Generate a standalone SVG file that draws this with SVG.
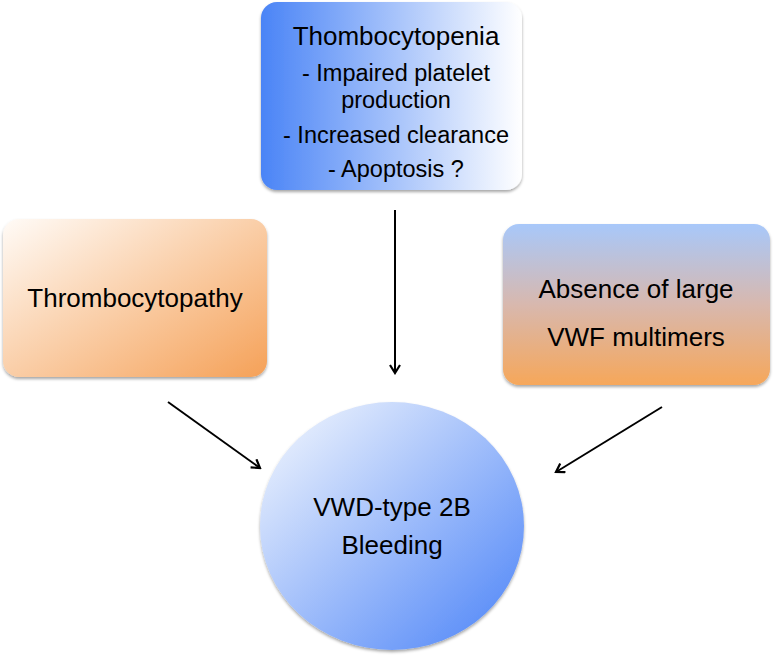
<svg xmlns="http://www.w3.org/2000/svg" width="774" height="656" viewBox="0 0 774 656">
  <style>
    text { font-family: "Liberation Sans", Arial, sans-serif; fill: #000; text-anchor: middle; }
    .t26 { font-size: 26px; }
    .t24 { font-size: 23.5px; }
    .conn { stroke: #000; stroke-width: 2; fill: none; marker-end: url(#arrow); }
  </style>
  <defs>
    <linearGradient id="gTop" x1="0" y1="0" x2="1" y2="0">
      <stop offset="0" stop-color="#4a84f6"/>
      <stop offset="1" stop-color="#ffffff"/>
    </linearGradient>
    <linearGradient id="gLeft" x1="0" y1="0" x2="1" y2="1">
      <stop offset="0" stop-color="#fffbf7"/>
      <stop offset="1" stop-color="#f5a158"/>
    </linearGradient>
    <linearGradient id="gRight" x1="0" y1="0" x2="0" y2="1">
      <stop offset="0" stop-color="#a8c8fa"/>
      <stop offset="0.5" stop-color="#d8b8ae"/>
      <stop offset="1" stop-color="#f6a75a"/>
    </linearGradient>
    <linearGradient id="gCircle" x1="0.1" y1="0.1" x2="0.9" y2="0.9">
      <stop offset="0" stop-color="#e6eefd"/>
      <stop offset="1" stop-color="#5b8ef8"/>
    </linearGradient>
    <filter id="shadow" x="-10%" y="-10%" width="120%" height="125%">
      <feDropShadow dx="0" dy="2" stdDeviation="1.5" flood-color="#000" flood-opacity="0.35"/>
    </filter>
    <marker id="arrow" markerWidth="12" markerHeight="12" refX="10" refY="6" orient="auto" markerUnits="userSpaceOnUse">
      <path d="M2,1 L10,6 L2,11" fill="none" stroke="#000" stroke-width="2.2"/>
    </marker>
  </defs>

  <g id="node-thrombocytopenia">
    <rect x="261" y="2" width="261" height="188" rx="16" fill="url(#gTop)" filter="url(#shadow)"/>
    <text class="t26" x="396" y="45">Thombocytopenia</text>
    <text class="t24" x="396" y="81">- Impaired platelet</text>
    <text class="t24" x="396" y="108">production</text>
    <text class="t24" x="396" y="143">- Increased clearance</text>
    <text class="t24" x="396" y="177">- Apoptosis ?</text>
  </g>

  <g id="node-thrombocytopathy">
    <rect x="3" y="219" width="264" height="158" rx="16" fill="url(#gLeft)" filter="url(#shadow)"/>
    <text class="t26" x="135" y="307">Thrombocytopathy</text>
  </g>

  <g id="node-vwf">
    <rect x="503" y="224" width="267" height="161" rx="16" fill="url(#gRight)" filter="url(#shadow)"/>
    <text class="t26" x="636" y="298">Absence of large</text>
    <text class="t26" x="636" y="346">VWF multimers</text>
  </g>

  <g id="node-bleeding">
    <ellipse cx="392" cy="526" rx="132" ry="124" fill="url(#gCircle)" filter="url(#shadow)"/>
    <text class="t26" x="392" y="516">VWD-type 2B</text>
    <text class="t26" x="392" y="554">Bleeding</text>
  </g>

  <g id="connectors">
    <line class="conn" x1="395" y1="210" x2="395" y2="373"/>
    <line class="conn" x1="168" y1="402" x2="260" y2="468"/>
    <line class="conn" x1="662" y1="407" x2="556" y2="472"/>
  </g>
</svg>
